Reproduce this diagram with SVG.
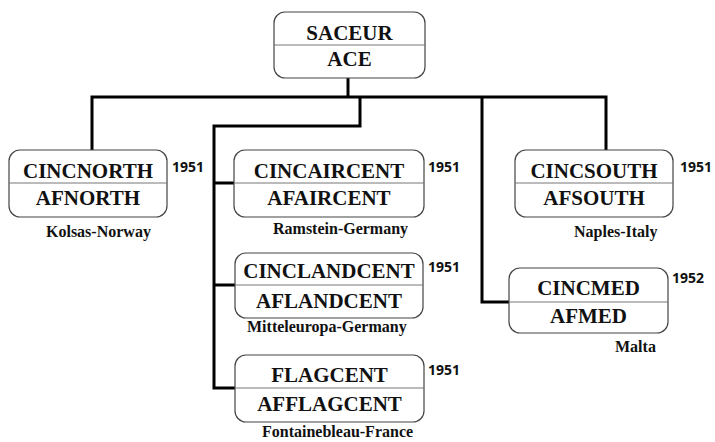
<svg xmlns="http://www.w3.org/2000/svg" width="715" height="442" viewBox="0 0 715 442">
<style>
.box{fill:#fff;stroke:#444;stroke-width:1.2}
.div{stroke:#777;stroke-width:1}
.t{font-size:21px;fill:#111;text-anchor:middle}
.loc{font-size:16px;fill:#111}
.yr{font-family:'Open Sans','Liberation Sans',sans-serif;font-weight:700;font-size:14px;fill:#111}
.con{fill:none;stroke:#000;stroke-width:3}
</style>
<rect width="715" height="442" fill="#fff"/>
<g id="connectors">
<path class="con" d="M348,78 V97"/>
<path class="con" d="M92,150 V97 H606 V150"/>
<path class="con" d="M482,97 V302 H509"/>
<path class="con" d="M360,97 V126 H214 V388 H235"/>
<path class="con" d="M214,183 H234"/>
<path class="con" d="M214,285 H235"/>
</g>
<g font-family="Liberation Serif, Times New Roman, serif" font-weight="bold">
<g id="saceur">
<rect class="box" x="274" y="12" width="151" height="66" rx="11"/>
<line class="div" x1="274" y1="45" x2="425" y2="45"/>
<text class="t" x="349.5" y="40">SACEUR</text>
<text class="t" x="349.5" y="66">ACE</text>
</g>
<g id="cincnorth">
<rect class="box" x="9" y="150" width="158" height="67" rx="11"/>
<line class="div" x1="9" y1="183" x2="167" y2="183"/>
<text class="t" x="88" y="178">CINCNORTH</text>
<text class="t" x="88" y="205">AFNORTH</text>
<text class="yr" x="172" y="172">1951</text>
<text class="loc" x="46" y="237">Kolsas-Norway</text>
</g>
<g id="cincaircent">
<rect class="box" x="234" y="150" width="190" height="67" rx="11"/>
<line class="div" x1="234" y1="183" x2="424" y2="183"/>
<text class="t" x="329" y="178">CINCAIRCENT</text>
<text class="t" x="329" y="205">AFAIRCENT</text>
<text class="yr" x="428" y="172">1951</text>
<text class="loc" x="273" y="234">Ramstein-Germany</text>
</g>
<g id="cincsouth">
<rect class="box" x="515" y="150" width="158" height="67" rx="11"/>
<line class="div" x1="515" y1="183" x2="673" y2="183"/>
<text class="t" x="594" y="178">CINCSOUTH</text>
<text class="t" x="594" y="205">AFSOUTH</text>
<text class="yr" x="680" y="172">1951</text>
<text class="loc" x="574" y="237">Naples-Italy</text>
</g>
<g id="cinclandcent">
<rect class="box" x="235" y="253" width="188" height="65" rx="11"/>
<line class="div" x1="235" y1="285" x2="423" y2="285"/>
<text class="t" x="329" y="278">CINCLANDCENT</text>
<text class="t" x="329" y="308">AFLANDCENT</text>
<text class="yr" x="428" y="272">1951</text>
<text class="loc" x="247" y="332">Mitteleuropa-Germany</text>
</g>
<g id="cincmed">
<rect class="box" x="509" y="268" width="159" height="65" rx="11"/>
<line class="div" x1="509" y1="302" x2="668" y2="302"/>
<text class="t" x="588.5" y="295">CINCMED</text>
<text class="t" x="588.5" y="323">AFMED</text>
<text class="yr" x="672" y="283">1952</text>
<text class="loc" x="615" y="352">Malta</text>
</g>
<g id="flagcent">
<rect class="box" x="235" y="355" width="189" height="67" rx="11"/>
<line class="div" x1="235" y1="388" x2="424" y2="388"/>
<text class="t" x="329.5" y="382">FLAGCENT</text>
<text class="t" x="329.5" y="411">AFFLAGCENT</text>
<text class="yr" x="428" y="375">1951</text>
<text class="loc" x="262" y="437">Fontainebleau-France</text>
</g>
</g>
</svg>
